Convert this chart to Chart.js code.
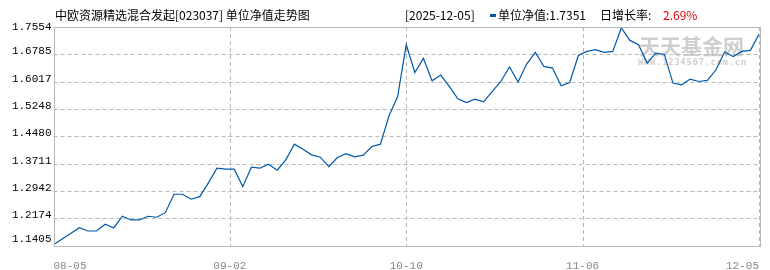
<!DOCTYPE html>
<html>
<head>
<meta charset="utf-8">
<script src="https://cdn.jsdelivr.net/npm/chart.js@4.4.1/dist/chart.umd.min.js"></script>
<style>
  html, body { margin: 0; padding: 0; background: #fff; }
  #wrap { width: 770px; height: 270px; }
</style>
</head>
<body>
<div id="wrap"><canvas id="nav"></canvas></div>
<script>
// 单位净值, 2025-08-05 .. 2025-12-05
const navValues = [
  1.1434, 1.1594, 1.1749, 1.1912, 1.1819, 1.1819, 1.2008, 1.1904, 1.2233, 1.2129,
  1.2129, 1.2233, 1.2205, 1.2334, 1.2852, 1.2852, 1.2712, 1.2785, 1.3171, 1.3584,
  1.3556, 1.3556, 1.3066, 1.3613, 1.3584, 1.3697, 1.3528, 1.3818, 1.4260, 1.4119,
  1.3959, 1.3894, 1.3629, 1.3883, 1.3995, 1.3903, 1.3950, 1.4193, 1.4260, 1.5057,
  1.5600, 1.7056, 1.6276, 1.6670, 1.6042, 1.6203, 1.5882, 1.5535, 1.5431, 1.5527,
  1.5451, 1.5741, 1.6022, 1.6428, 1.6006, 1.6512, 1.6839, 1.6445, 1.6400, 1.5901,
  1.5994, 1.6754, 1.6867, 1.6915, 1.6839, 1.6867, 1.7526, 1.7177, 1.7056, 1.6540,
  1.6822, 1.6783, 1.5977, 1.5930, 1.6090, 1.6022, 1.6051, 1.6352, 1.6850, 1.6726,
  1.6867, 1.6897, 1.7351
];
const xTickLabels = ["08-05", "09-02", "10-10", "11-06", "12-05"];
const yTickValues = [1.1405, 1.2174, 1.2942, 1.3711, 1.4480, 1.5248, 1.6017, 1.6785, 1.7554];

const fundTitle = "中欧资源精选混合发起[023037] 单位净值走势图";
const lastDate = "2025-12-05";
const lastNav = "1.7351";
const lastRate = "2.69%";

const lineColor = "#0058a8";
const gridColor = "#b8b8b8";
const cjk = '"Noto Sans CJK SC", sans-serif';
const mono = "'Liberation Mono', monospace";

const points = navValues.map((v, i) => ({ x: i, y: v }));

const headerPlugin = {
  id: "header",
  beforeDatasetsDraw(chart) {
    const ctx = chart.ctx;
    const a = chart.chartArea;
    ctx.save();
    // dashed grid
    ctx.strokeStyle = gridColor;
    ctx.lineWidth = 1;
    ctx.setLineDash([4, 3]);
    chart.scales.y.ticks.forEach(t => {
      const y = Math.round(chart.scales.y.getPixelForValue(t.value)) + 0.5;
      ctx.beginPath(); ctx.moveTo(a.left, y); ctx.lineTo(a.right, y); ctx.stroke();
    });
    chart.scales.x.ticks.forEach(t => {
      const x = Math.round(chart.scales.x.getPixelForValue(t.value)) + 0.5;
      ctx.beginPath(); ctx.moveTo(x, a.top); ctx.lineTo(x, a.bottom); ctx.stroke();
    });
    ctx.setLineDash([]);

    // watermark
    ctx.fillStyle = "rgba(185,185,185,0.7)";
    ctx.font = "bold 21px " + cjk;
    ctx.textBaseline = "middle";
    ctx.fillText("天天基金网", 639, 46);
    ctx.font = "bold 9px 'DejaVu Sans Mono', monospace";
    const small = "WWW.1234567.com.cn";
    for (let i = 0; i < small.length; i++) {
      ctx.fillText(small[i], 638 + i * 6.05, 63);
    }
    ctx.restore();
  },
  afterDraw(chart) {
    const ctx = chart.ctx;
    const a = chart.chartArea;
    ctx.save();
    // frame round the plot
    ctx.strokeStyle = gridColor;
    ctx.lineWidth = 1;
    ctx.strokeRect(Math.round(a.left) + 0.5, Math.round(a.top) + 0.5,
      Math.round(a.right - a.left), Math.round(a.bottom - a.top));

    // y labels, sitting a little above their grid lines
    const ys = chart.scales.y;
    ctx.font = "11px " + mono;
    ctx.fillStyle = "#000";
    ctx.textAlign = "right";
    ctx.textBaseline = "middle";
    yTickValues.forEach((v, i) => {
      const lift = i === 0 ? 7 : (i === yTickValues.length - 1 ? 0 : 3);
      ctx.fillText(v.toFixed(4), a.left - 2, ys.getPixelForValue(v) - lift);
    });

    // header line
    ctx.textAlign = "left";
    ctx.font = "12px " + cjk;
    ctx.fillText(fundTitle, 55, 15);
    ctx.fillText("[" + lastDate + "]", 405, 15);
    ctx.fillStyle = lineColor;
    ctx.fillRect(490, 14, 6, 3);
    ctx.fillStyle = "#000";
    ctx.fillText("单位净值:" + lastNav, 498, 15);
    ctx.fillText("日增长率:", 600, 15);
    ctx.fillStyle = "#e00000";
    ctx.fillText(lastRate, 663, 15);
    ctx.restore();
  }
};

new Chart(document.getElementById("nav"), {
  type: "line",
  data: {
    datasets: [{
      data: points,
      borderColor: lineColor,
      borderWidth: 1.2,
      pointRadius: 0,
      tension: 0,
      fill: false
    }]
  },
  options: {
    responsive: true,
    maintainAspectRatio: false,
    animation: false,
    events: [],
    layout: { padding: { top: 27, right: 11, left: 0, bottom: 0 } },
    plugins: { legend: { display: false }, tooltip: { enabled: false } },
    scales: {
      x: {
        type: "linear",
        min: 0,
        max: navValues.length - 1,
        afterBuildTicks(scale) {
          const n = xTickLabels.length;
          scale.ticks = xTickLabels.map((_, i) => ({ value: i * (navValues.length - 1) / (n - 1) }));
        },
        afterFit(scale) { scale.height = 24.3; },
        grid: { display: false },
        border: { display: false },
        ticks: {
          align: "inner",
          padding: 6,
          color: "#888",
          font: { family: mono, size: 11 },
          maxRotation: 0,
          autoSkip: false,
          callback: (v, i) => xTickLabels[i]
        }
      },
      y: {
        min: yTickValues[0],
        max: yTickValues[yTickValues.length - 1],
        afterBuildTicks(scale) {
          scale.ticks = yTickValues.map(v => ({ value: v }));
        },
        afterFit(scale) { scale.width = 53.5; },
        grid: { display: false },
        border: { display: false },
        ticks: { display: false }
      }
    }
  },
  plugins: [headerPlugin]
});
</script>
</body>
</html>
